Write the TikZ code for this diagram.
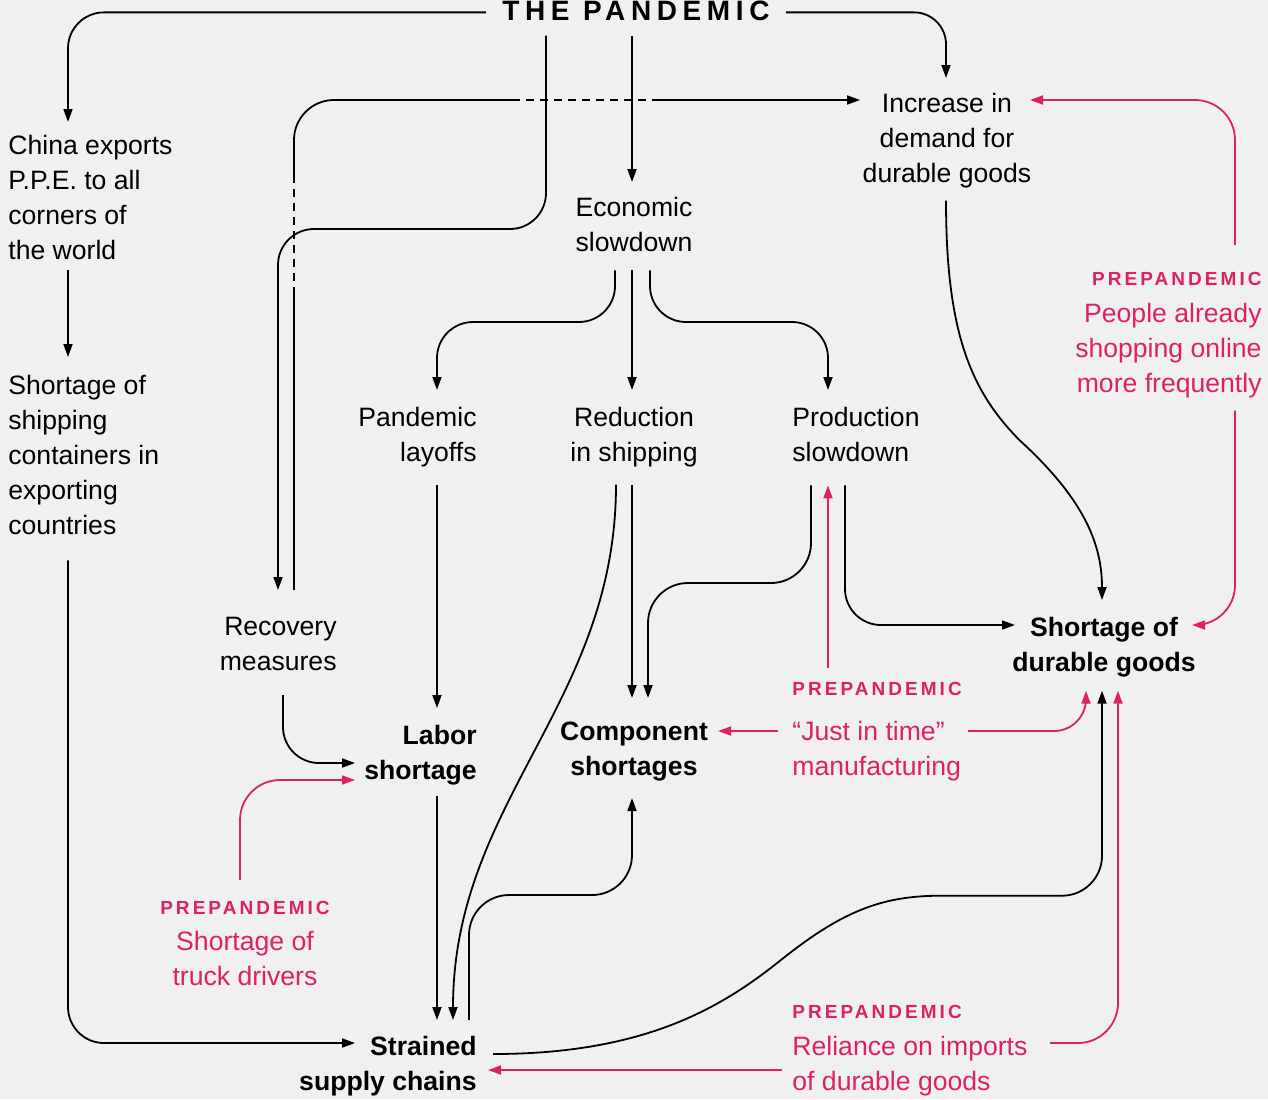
\documentclass[tikz,border=0pt]{standalone}
\usepackage{fontspec}
\setmainfont{Liberation Sans}
\newfontfamily\tracked{Liberation Sans}[LetterSpace=16]
\newfontfamily\titlefont{Liberation Sans}[LetterSpace=20]
\usetikzlibrary{arrows.meta}
\usetikzlibrary{calc}
\definecolor{prered}{RGB}{221,34,95}
\definecolor{paper}{RGB}{240,240,240}
\newcommand{\prehead}{{\tracked\bfseries\fontsize{9.5}{11}\selectfont PREPANDEMIC}}

\begin{document}
\begin{tikzpicture}[x=0.5pt,y=-0.5pt,
    txt/.style={inner sep=0pt,font=\fontsize{13.3}{17.5}\selectfont},
    key/.style={txt,font=\fontsize{13.3}{17.5}\selectfont\bfseries},
    pre/.style={txt,text=prered},
    plain/.style={draw=black,line width=0.9pt},
    link/.style={plain,-{Triangle[length=6.5pt,width=4.5pt]}},
    prelink/.style={link,draw=prered},
    gap/.style={plain,dash pattern=on 4pt off 3pt}]
    \path[fill=paper,use as bounding box] (0,0) rectangle (1268,1099);

    \node[txt,anchor=base,font=\titlefont\bfseries\fontsize{14}{17}\selectfont] (pan) at (636,20) {THE PANDEMIC};
    \node[txt,anchor=north west,align=left] (china) at (8,135) {China exports\\P.P.E. to all\\corners of\\the world};
    \node[txt,anchor=north west,align=left] (ship) at (8,375) {Shortage of\\shipping\\containers in\\exporting\\countries};
    \node[txt,anchor=north,align=center] (demand) at (947,93) {Increase in\\demand for\\durable goods};
    \node[txt,anchor=north,align=center] (econ) at (634,197) {Economic\\slowdown};
    \node[txt,anchor=north east,align=right] (layoff) at (477,407) {Pandemic\\layoffs};
    \node[txt,anchor=north,align=center] (reduct) at (634,407) {Reduction\\in shipping};
    \node[txt,anchor=north west,align=left] (prodn) at (792,407) {Production\\slowdown};
    \node[txt,anchor=north east,align=right] (recov) at (337,617) {Recovery\\measures};
    \node[key,anchor=north east,align=right] (labor) at (477,725) {Labor\\shortage};
    \node[key,anchor=north,align=center] (comp) at (634,722) {Component\\shortages};
    \node[key,anchor=north,align=center] (durable) at (1104,617) {Shortage of\\durable goods};
    \node[key,anchor=north east,align=right] (strained) at (477,1036) {Strained\\supply chains};
    \node[pre,anchor=north east,align=right] (online) at (1262,272) {\prehead\\[1pt]People already\\shopping online\\more frequently};
    \node[pre,anchor=north west,align=left] (jit) at (792,682) {\prehead\\[4.75pt]“Just in time”\\manufacturing};
    \node[pre,anchor=north,align=center] (truck) at (245,901) {\prehead\\[0.5pt]Shortage of\\truck drivers};
    \node[pre,anchor=north west,align=left] (reliance) at (792,1005) {\prehead\\[1pt]Reliance on imports\\of durable goods};

    \coordinate (cross1) at (294,295);
    \coordinate (cross2) at (294,175);
    \coordinate (cross3) at (512,100);
    \coordinate (cross4) at (660,100);

    \draw[link,rounded corners=18pt] ($(pan.west)+(-16,2)$) -| ($(china.north west)+(60,-13)$);
    \draw[link,rounded corners=16pt] ($(pan.east)+(16,2)$) -| ($(demand.north)+(-1,-15)$);
    \draw[link] ($(pan.south)+(-4,15)$) -- ($(econ.north)+(-2,-15)$);
    \draw[link,rounded corners=18pt] ($(pan.south)+(-90,15)$) |- ($(recov.north east)+(-59,-388)$) -- ($(recov.north east)+(-59,-27)$);
    \draw[plain] ($(recov.north east)+(-43,-27)$) -- (cross1);
    \draw[gap] (cross1) -- (cross2);
    \draw[plain,rounded corners=20pt] (cross2) |- (cross3);
    \draw[gap] (cross3) -- (cross4);
    \draw[link] (cross4) -- ($(demand.north)+(-87,7)$);
    \draw[link,rounded corners=18pt] ($(econ.south)+(-19,18)$) |- ($(layoff.north east)+(-40,-85)$) -- ($(layoff.north east)+(-40,-17)$);
    \draw[link] ($(econ.south)+(-2,18)$) -- ($(reduct.north)+(-2,-17)$);
    \draw[link,rounded corners=18pt] ($(econ.south)+(16,18)$) |- ($(prodn.north west)+(36,-85)$) -- ($(prodn.north west)+(36,-17)$);
    \draw[link] ($(layoff.south east)+(-40,17)$) -- ($(labor.north east)+(-40,-17)$);
    \draw[link] ($(reduct.south)+(-2,17)$) -- ($(comp.north)+(-2,-24)$);
    \draw[link] ($(reduct.south)+(-18,17)$) to[out=-90,in=90] ($(strained.north east)+(-24,-16)$);
    \draw[link,rounded corners=20pt] ($(prodn.south west)+(19,23)$) |- ($(comp.north)+(14,-139)$) -- ($(comp.north)+(14,-24)$);
    \draw[link,rounded corners=18pt] ($(prodn.south west)+(53,23)$) |- ($(durable.north)+(-89,8)$);
    \draw[link] ($(demand.south)+(-1,12)$) .. controls +(0,130) and +(-50,-50) .. ($(demand.south)+(73,252)$) .. controls +(60,55) and +(0,-60) .. ($(durable.north)+(-2,-17)$);
    \draw[link,rounded corners=18pt] ($(recov.north east)+(-54,78)$) |- ($(labor.north east)+(-122,38)$);
    \draw[link] ($(labor.south east)+(-40,10)$) -- ($(strained.north east)+(-40,-16)$);
    \draw[link,rounded corners=20pt] ($(strained.north east)+(-8,-16)$) |- ($(comp.south)+(-2,113)$) -- ($(comp.south)+(-2,16)$);
    \draw[link] ($(strained.north east)+(16,18)$) .. controls +(150,0) and +(-60,48) .. ($(durable.south)+(-324,283)$) .. controls +(60,-48) and +(-60,0) .. ($(durable.south)+(-164,218)$) [rounded corners=20pt] -| ($(durable.south)+(-2,13)$);
    \draw[link,rounded corners=18pt] ($(ship.south west)+(60,25)$) |- ($(strained.north east)+(-122,7)$);
    \draw[link] ($(china.south west)+(60,10)$) -- ($(ship.north west)+(60,-18)$);

    \draw[prelink,rounded corners=20pt] ($(online.north east)+(-27,-27)$) |- ($(demand.north)+(83,7)$);
    \draw[prelink,rounded corners=20pt] ($(online.south east)+(-27,12)$) |- ($(durable.north)+(88,8)$);
    \draw[prelink] ($(jit.north west)+(-14,49)$) -- ($(comp.north)+(84,9)$);
    \draw[prelink,rounded corners=16pt] ($(jit.north west)+(176,49)$) -| ($(durable.south)+(-18,13)$);
    \draw[prelink] ($(jit.north west)+(36,-14)$) -- ($(prodn.south west)+(36,23)$);
    \draw[prelink,rounded corners=20pt] ($(truck.north)+(-5,-21)$) |- ($(labor.north east)+(-122,55)$);
    \draw[prelink] ($(reliance.north west)+(-10,65)$) -- ($(strained.north east)+(11,34)$);
    \draw[prelink,rounded corners=20pt] ($(reliance.north west)+(258,38)$) -| ($(durable.south)+(14,13)$);
\end{tikzpicture}
\end{document}
